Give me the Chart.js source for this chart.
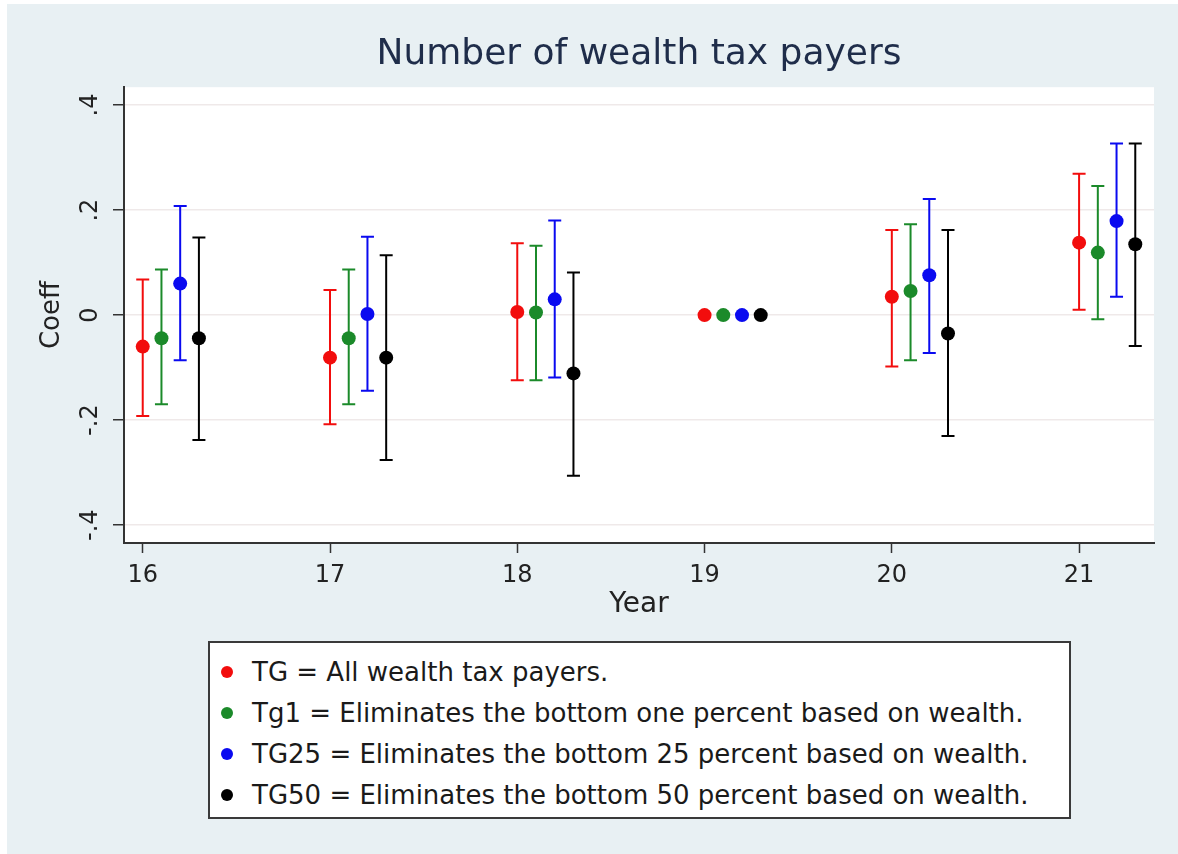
<!DOCTYPE html>
<html lang="en">
<head>
  <meta charset="UTF-8" />
  <title>Number of wealth tax payers</title>
  <script src="https://cdn.jsdelivr.net/npm/chart.js"></script>
  <style>
    html, body {
      margin: 0;
      padding: 0;
      background: #fff;
    }
    body {
      width: 1178px;
      height: 854px;
      position: relative;
      overflow: hidden;
      font-family: "DejaVu Sans", sans-serif;
    }
    .frame {
      position: absolute;
      left: 7px; top: 4px; right: 0; bottom: 0;
      background: #e8f0f3;
    }
    .chart-container {
      position: absolute;
      left: 0; top: 0;
      width: 1178px;
      height: 630px;
    }
    .legend {
      position: absolute;
      left: 208px; top: 641px;
      width: 863px; height: 178px;
      box-sizing: border-box;
      border: 2px solid #3a3a3a;
      background: #fff;
      padding-top: 9px;
    }
    .legend-row {
      position: relative;
      height: 41px;
      line-height: 41px;
      font-size: 26px;
      color: #1a1a1a;
      padding-left: 42px;
      white-space: nowrap;
    }
    .legend-row .dot {
      position: absolute;
      left: 11px; top: 14px;
      width: 12px; height: 12px;
      border-radius: 50%;
    }
  </style>
</head>
<body>
  <div class="frame"></div>
  <div class="chart-container">
    <canvas id="coefChart"></canvas>
  </div>
  <div class="legend" id="legend"></div>

  <script>
    // years on the x axis and the y tick values
    const years = [16, 17, 18, 19, 20, 21];
    const yTicks = [-0.4, -0.2, 0, 0.2, 0.4];

    // coefficients with lower / upper bounds of the confidence interval (19 = base year)
    const tgCoef  = [-0.060, -0.081,  0.006, 0,  0.035, 0.138];
    const tgLow   = [-0.192, -0.208, -0.124, null, -0.098, 0.010];
    const tgHigh  = [ 0.068,  0.048,  0.137, null,  0.162, 0.269];

    const tg1Coef = [-0.044, -0.044,  0.005, 0,  0.046, 0.119];
    const tg1Low  = [-0.170, -0.170, -0.124, null, -0.086, -0.008];
    const tg1High = [ 0.087,  0.087,  0.132, null,  0.173, 0.246];

    const tg25Coef = [0.060,  0.002,  0.030, 0,  0.076, 0.179];
    const tg25Low  = [-0.086, -0.144, -0.119, null, -0.072, 0.035];
    const tg25High = [0.208,  0.149,  0.180, null,  0.221, 0.327];

    const tg50Coef = [-0.044, -0.081, -0.111, 0, -0.035, 0.135];
    const tg50Low  = [-0.238, -0.276, -0.306, null, -0.230, -0.059];
    const tg50High = [ 0.148,  0.114,  0.081, null,  0.162, 0.327];

    const seriesLabels = [
      "TG = All wealth tax payers.",
      "Tg1 = Eliminates the bottom one percent based on wealth.",
      "TG25 = Eliminates the bottom 25 percent based on wealth.",
      "TG50 = Eliminates the bottom 50 percent based on wealth."
    ];
    const seriesColors = ["#f20d0d", "#1b8a2a", "#0a0af0", "#000000"];
    const xShift = [0, 0.1, 0.2, 0.3];

    const coefs = [tgCoef, tg1Coef, tg25Coef, tg50Coef];
    const lows = [tgLow, tg1Low, tg25Low, tg50Low];
    const highs = [tgHigh, tg1High, tg25High, tg50High];

    const datasets = coefs.map((vals, s) => ({
      label: seriesLabels[s],
      data: years.map((yr, i) => ({
        x: yr + xShift[s],
        y: vals[i],
        lo: lows[s][i],
        hi: highs[s][i]
      })),
      backgroundColor: seriesColors[s],
      borderWidth: 0,
      pointRadius: 7,
      pointHoverRadius: 7
    }));

    // build the legend box
    const legendEl = document.getElementById("legend");
    seriesLabels.forEach((txt, s) => {
      const row = document.createElement("div");
      row.className = "legend-row";
      const dot = document.createElement("span");
      dot.className = "dot";
      dot.style.background = seriesColors[s];
      row.appendChild(dot);
      row.appendChild(document.createTextNode(txt));
      legendEl.appendChild(row);
    });

    // white plot region
    const plotBg = {
      id: "plotBg",
      beforeDraw(chart) {
        const {ctx, chartArea: a} = chart;
        ctx.save();
        ctx.fillStyle = "#ffffff";
        ctx.fillRect(a.left, a.top, a.right - a.left, a.bottom - a.top);
        ctx.restore();
      }
    };

    // confidence interval whiskers with caps
    const errorBars = {
      id: "errorBars",
      beforeDatasetsDraw(chart) {
        const ctx = chart.ctx;
        const xs = chart.scales.x, ys = chart.scales.y;
        ctx.save();
        chart.data.datasets.forEach(ds => {
          ctx.strokeStyle = ds.backgroundColor;
          ctx.lineWidth = 2;
          ds.data.forEach(p => {
            if (p.lo == null || p.hi == null) return;
            const px = xs.getPixelForValue(p.x);
            const yLo = ys.getPixelForValue(p.lo);
            const yHi = ys.getPixelForValue(p.hi);
            ctx.beginPath();
            ctx.moveTo(px, yLo); ctx.lineTo(px, yHi);
            ctx.moveTo(px - 6.5, yLo); ctx.lineTo(px + 6.5, yLo);
            ctx.moveTo(px - 6.5, yHi); ctx.lineTo(px + 6.5, yHi);
            ctx.stroke();
          });
        });
        ctx.restore();
      }
    };

    const fontFam = "'DejaVu Sans', sans-serif";

    new Chart(document.getElementById("coefChart"), {
      type: "scatter",
      data: { datasets: datasets },
      plugins: [plotBg, errorBars],
      options: {
        responsive: true,
        maintainAspectRatio: false,
        animation: false,
        layout: { padding: { left: 0, right: 24, top: 0, bottom: 0 } },
        plugins: {
          legend: { display: false },
          tooltip: { enabled: false },
          title: {
            display: true,
            fullSize: false,
            text: "Number of wealth tax payers",
            color: "#1f2d4a",
            font: { family: fontFam, size: 36, weight: "normal" },
            padding: { top: 33, bottom: 11 }
          }
        },
        scales: {
          x: {
            type: "linear",
            min: 15.9,
            max: 21.4,
            afterBuildTicks: axis => { axis.ticks = years.map(v => ({ value: v })); },
            afterFit: axis => { axis.height = 87; },
            border: { color: "#333", width: 2 },
            grid: {
              display: true,
              drawOnChartArea: false,
              tickLength: 10,
              tickColor: "#333",
              tickWidth: 1.5
            },
            ticks: {
              color: "#222",
              padding: 8,
              font: { family: fontFam, size: 24 },
              callback: v => String(v)
            },
            title: {
              display: true,
              text: "Year",
              color: "#222",
              font: { family: fontFam, size: 28 },
              padding: { top: 0, bottom: 8 }
            }
          },
          y: {
            min: -0.434,
            max: 0.434,
            afterBuildTicks: axis => { axis.ticks = yTicks.map(v => ({ value: v })); },
            afterFit: axis => { axis.width = 124; },
            border: { color: "#333", width: 2 },
            grid: {
              color: "#efe9e9",
              lineWidth: 1.5,
              tickLength: 11,
              tickColor: "#333",
              tickWidth: 1.5
            },
            ticks: {
              color: "#222",
              padding: 6,
              minRotation: 90,
              maxRotation: 90,
              crossAlign: "center",
              font: { family: fontFam, size: 24 },
              callback: v => {
                if (Math.abs(v) < 1e-9) return "0";
                const s = v.toFixed(1);
                return s.replace("0.", ".");
              }
            },
            title: {
              display: true,
              text: "Coeff",
              color: "#222",
              font: { family: fontFam, size: 26 },
              padding: { top: 37, bottom: 0 }
            }
          }
        }
      }
    });
  </script>
</body>
</html>
